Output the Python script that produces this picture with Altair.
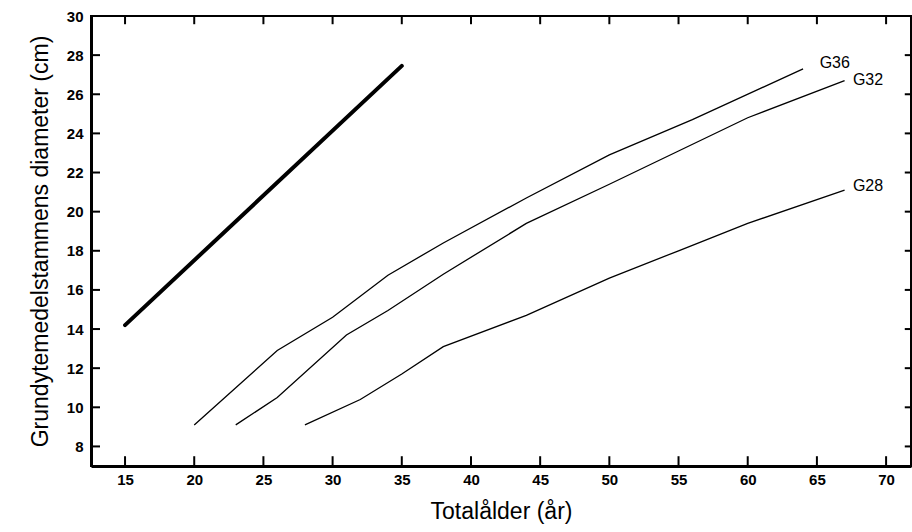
import altair as alt
import pandas as pd

# --- data ---
thick_x = [15, 35]
thick_y = [14.2, 27.45]

g36_x = [20, 26, 30, 34, 38, 44, 50, 56, 64]
g36_y = [9.1, 12.9, 14.6, 16.75, 18.4, 20.7, 22.9, 24.7, 27.3]

g32_x = [23, 26, 31, 34, 38, 44, 50, 55, 60, 67]
g32_y = [9.1, 10.5, 13.7, 14.95, 16.8, 19.4, 21.4, 23.1, 24.8, 26.7]

g28_x = [28, 32, 35, 38, 44, 50, 55, 60, 67]
g28_y = [9.1, 10.4, 11.7, 13.1, 14.7, 16.6, 18.0, 19.4, 21.1]

label_text = ["G36", "G32", "G28"]
label_x = [65.2, 67.6, 67.6]
label_y = [27.6, 26.75, 21.3]

x_ticks = [15, 20, 25, 30, 35, 40, 45, 50, 55, 60, 65, 70]
y_ticks = [8, 10, 12, 14, 16, 18, 20, 22, 24, 26, 28, 30]

X_MIN, X_MAX = 12.54, 71.8
Y_MIN, Y_MAX = 7, 30

FONT = "Liberation Sans"

rows = []
for name, xs, ys in [("G36", g36_x, g36_y), ("G32", g32_x, g32_y), ("G28", g28_x, g28_y)]:
    for i, (a, b) in enumerate(zip(xs, ys)):
        rows.append({"serie": name, "x": a, "y": b, "o": i})
thin_df = pd.DataFrame(rows)
thick_df = pd.DataFrame({"x": thick_x, "y": thick_y, "o": range(len(thick_x))})
lab_df = pd.DataFrame({"t": label_text, "x": label_x, "y": label_y})
xt_df = pd.DataFrame({"v": x_ticks})
yt_df = pd.DataFrame({"v": y_ticks})

xscale = alt.Scale(domain=[X_MIN, X_MAX], nice=False, zero=False)
yscale = alt.Scale(domain=[Y_MIN, Y_MAX], nice=False, zero=False)

xaxis = alt.Axis(
    title="Totalålder (år)", values=x_ticks, ticks=False, grid=False,
    domainColor="black", domainWidth=3, labelFont=FONT, labelFontSize=15,
    labelFontWeight="bold", labelColor="black", labelPadding=6,
    titleFont=FONT, titleFontSize=23, titleFontWeight="normal",
    titleColor="black", titlePadding=13,
)
yaxis = alt.Axis(
    title="Grundytemedelstammens diameter (cm)", values=y_ticks, ticks=False,
    grid=False, domainColor="black", domainWidth=3, labelFont=FONT,
    labelFontSize=15, labelFontWeight="bold", labelColor="black",
    labelPadding=8, titleFont=FONT, titleFontSize=23,
    titleFontWeight="normal", titleColor="black", titlePadding=14,
)

thin = alt.Chart(thin_df).mark_line(color="black", strokeWidth=1.3).encode(
    x=alt.X("x:Q", scale=xscale, axis=xaxis),
    y=alt.Y("y:Q", scale=yscale, axis=yaxis),
    detail="serie:N",
    order="o:Q",
)

thick = alt.Chart(thick_df).mark_line(color="black", strokeWidth=4, strokeCap="round").encode(
    x="x:Q", y="y:Q", order="o:Q"
)

labels = alt.Chart(lab_df).mark_text(
    align="left", baseline="middle", font=FONT, fontSize=16, color="black"
).encode(x="x:Q", y="y:Q", text="t:N")

tick_bottom = alt.Chart(xt_df).mark_rule(color="black", strokeWidth=2).encode(
    x="v:Q", y=alt.datum(Y_MIN), y2=alt.datum(Y_MIN + 0.5)
)
tick_top = alt.Chart(xt_df).mark_rule(color="black", strokeWidth=2).encode(
    x="v:Q", y=alt.datum(Y_MAX), y2=alt.datum(Y_MAX - 0.42)
)
tick_left = alt.Chart(yt_df).mark_rule(color="black", strokeWidth=2).encode(
    y="v:Q", x=alt.datum(X_MIN), x2=alt.datum(X_MIN + 0.65)
)
tick_right = alt.Chart(yt_df).mark_rule(color="black", strokeWidth=2).encode(
    y="v:Q", x=alt.datum(X_MAX), x2=alt.datum(X_MAX - 0.45)
)

chart = alt.layer(
    thin, thick, labels, tick_bottom, tick_top, tick_left, tick_right
).properties(
    width=820, height=450,
    autosize=alt.AutoSizeParams(type="none"),
    padding={"left": 91, "top": 16, "right": 1, "bottom": 66},
    background="white",
).configure_view(
    stroke="black", strokeWidth=2
)

chart.save("out.html", embed_options={"renderer": "svg", "actions": False})
